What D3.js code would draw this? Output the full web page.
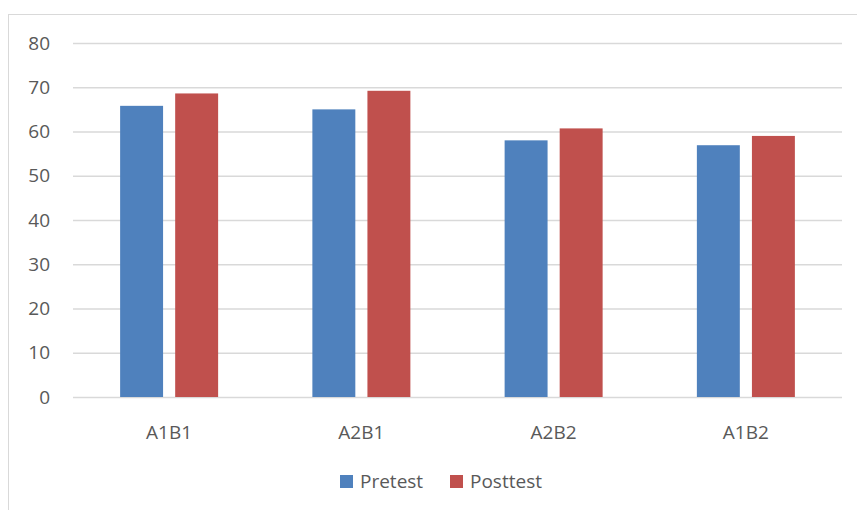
<!DOCTYPE html>
<html lang="en">
<head>
<meta charset="utf-8">
<title>Pretest / Posttest</title>
<script src="https://cdn.jsdelivr.net/npm/d3@7"></script>
<style>
  body { margin: 0; background: #fff; }
  text { font-family: "Open Sans", "Liberation Sans", sans-serif; fill: #595959; }
  .grid line { stroke: #d9d9d9; stroke-width: 1.3; }
  .grid path { display: none; }
</style>
</head>
<body>
<script>
// data
var categories = ["A1B1", "A2B1", "A2B2", "A1B2"];
var series = ["Pretest", "Posttest"];
var pretest = [65.8, 65.0, 58.0, 56.9];
var posttest = [68.6, 69.2, 60.7, 59.0];
var yTicks = [0, 10, 20, 30, 40, 50, 60, 70, 80];
var colors = ["#4f81bd", "#c0504d"];

var w = 857, h = 510;
var plotL = 73, plotR = 842, plotT = 43, plotB = 397;
var fs = "19px";

var svg = d3.select("body").append("svg").attr("width", w).attr("height", h);

// chart frame
svg.append("rect").attr("x", 8.5).attr("y", 14.5).attr("width", 860).attr("height", 520)
  .attr("fill", "none").attr("stroke", "#d9d9d9");

var x = d3.scaleBand().domain(categories).range([plotL, plotR]);
var y = d3.scaleLinear().domain([0, 80]).range([plotB, plotT]);
var x1 = d3.scaleBand().domain(series).range([0, 98]).paddingInner(0.22);

// gridlines
svg.append("g").attr("class", "grid")
  .attr("transform", "translate(" + plotL + ",0)")
  .call(d3.axisLeft(y).tickValues(yTicks).tickSize(-(plotR - plotL)).tickFormat(""));

// y labels
svg.append("g").selectAll("text").data(yTicks).enter().append("text")
  .attr("x", 50).attr("y", function(d) { return y(d); })
  .attr("dy", "0.35em").attr("text-anchor", "end")
  .style("font-size", fs)
  .text(function(d) { return d; });

// bars
var rows = categories.map(function(c, i) { return { cat: c, vals: [pretest[i], posttest[i]] }; });
var groups = svg.append("g").selectAll("g").data(rows).enter().append("g")
  .attr("transform", function(d) { return "translate(" + (x(d.cat) + x.bandwidth() / 2 - 49) + ",0)"; });
groups.selectAll("rect").data(function(d) { return d.vals.map(function(v, j) { return { s: series[j], v: v, j: j }; }); })
  .enter().append("rect")
  .attr("x", function(d) { return x1(d.s); })
  .attr("width", x1.bandwidth())
  .attr("y", function(d) { return y(d.v); })
  .attr("height", function(d) { return plotB - y(d.v); })
  .attr("fill", function(d) { return colors[d.j]; });

// x labels
svg.append("g").selectAll("text").data(categories).enter().append("text")
  .attr("x", function(d) { return x(d) + x.bandwidth() / 2; })
  .attr("y", 439).attr("text-anchor", "middle")
  .style("font-size", fs)
  .text(function(d) { return d; });

// legend
var legX = [340, 450];
var leg = svg.append("g").selectAll("g").data(series).enter().append("g")
  .attr("transform", function(d, i) { return "translate(" + legX[i] + ",475)"; });
leg.append("rect").attr("width", 13).attr("height", 13).attr("fill", function(d, i) { return colors[i]; });
leg.append("text").attr("x", 20).attr("y", 6.5).attr("dy", "0.35em")
  .style("font-size", fs).text(function(d) { return d; });
</script>
</body>
</html>
